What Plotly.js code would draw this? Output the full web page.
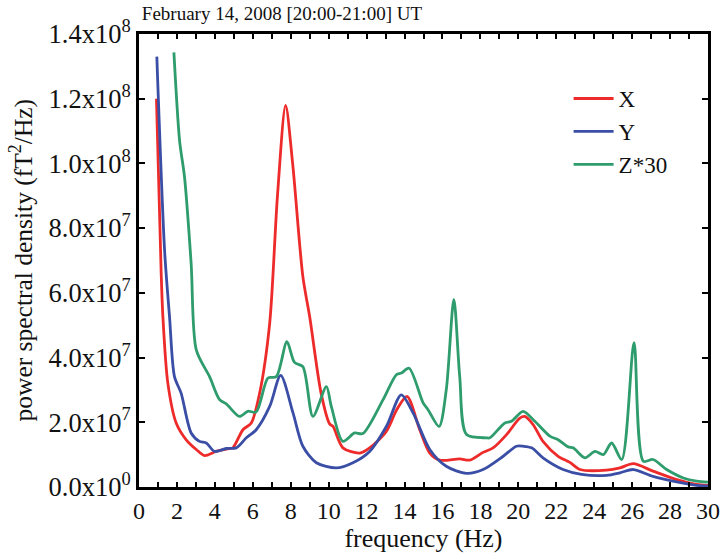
<!DOCTYPE html>
<html>
<head>
<meta charset="utf-8">
<script src="https://cdn.plot.ly/plotly-3.0.1.min.js"></script>
<style>html,body{margin:0;padding:0;background:#fff;}#chart{width:720px;height:559px;}</style>
</head>
<body>
<div id="chart"></div>
<script>
// X component
const fx = [0.92,1.17,1.26,1.52,1.96,2.49,3.02,3.46,4.07,4.78,4.95,5.48,5.92,6.36,6.89,7.3,7.73,8.1,8.64,9.0,9.6,10.05,10.23,10.75,11.64,12.16,13.04,13.6,14.13,14.8,15.33,15.86,16.91,17.44,18.14,18.67,19.38,20.08,20.34,20.78,21.3,22.1,22.72,23.25,24.65,25.36,26.06,27.1,28.35,29.4,30];
const vx = [1.2e8,6.6e7,5.26e7,3.21e7,1.98e7,1.46e7,1.16e7,9.7e6,1.1e7,1.19e7,1.21e7,1.77e7,1.98e7,2.9e7,5.06e7,9.0e7,1.179e8,1.0e8,6.5e7,5.26e7,2.9e7,1.95e7,1.87e7,1.21e7,1.05e7,1.21e7,1.72e7,2.4e7,2.8e7,1.77e7,1.05e7,8.3e6,8.7e6,8.3e6,1.07e7,1.21e7,1.62e7,2.13e7,2.18e7,1.93e7,1.41e7,9.5e6,7.6e6,5.4e6,5.2e6,5.9e6,7.2e6,4.9e6,2.3e6,8e5,5e5];
// Y component
const fy = [0.94,1.35,1.61,1.87,2.22,2.75,3.19,3.55,3.98,4.6,5.13,5.66,6.18,6.89,7.47,8.12,8.64,9.35,10.4,11.28,12.16,13.04,13.83,14.45,15.33,16.2,17.27,18.14,19.2,19.9,20.25,20.7,21.3,22.36,23.33,24.65,25.36,26.06,27.1,28.35,29.4,30];
const vy = [1.33e8,7.3e7,5.26e7,3.41e7,2.9e7,1.67e7,1.41e7,1.36e7,1.1e7,1.19e7,1.21e7,1.52e7,1.77e7,2.49e7,3.45e7,2.29e7,1.26e7,7.5e6,5.9e6,7.5e6,1.1e7,1.87e7,2.85e7,2.29e7,1.16e7,6.4e6,4.2e6,5.4e6,9.5e6,1.26e7,1.26e7,1.21e7,9.0e6,5.4e6,3.9e6,3.6e6,4.4e6,5.4e6,3.3e6,1.6e6,5e5,3e5];
// Z component (x30)
const fz = [1.84,2.14,2.4,2.75,3.02,3.72,4.25,4.6,5.3,5.74,6.18,6.8,7.24,7.8,8.2,8.64,9.17,9.88,10.14,10.75,11.37,11.8,12.87,13.57,13.83,14.24,14.98,15.24,15.82,16.2,16.6,16.91,17.27,18.32,18.5,19.29,19.64,20.25,20.87,21.66,22.1,22.63,22.89,23.51,24.04,24.48,24.92,25.45,26.1,26.59,27.1,27.82,28.7,29.4,30];
const vz = [1.343e8,1.07e8,9.58e7,6.9e7,4.24e7,3.41e7,2.7e7,2.57e7,2.18e7,2.34e7,2.32e7,3.37e7,3.41e7,4.49e7,3.85e7,3.72e7,2.18e7,3.1e7,2.49e7,1.41e7,1.67e7,1.65e7,2.7e7,3.47e7,3.52e7,3.67e7,2.6e7,2.39e7,1.87e7,3.0e7,5.8e7,3.41e7,1.62e7,1.52e7,1.52e7,1.98e7,2.03e7,2.34e7,2.03e7,1.57e7,1.46e7,1.24e7,1.21e7,9.0e6,1.1e7,1.0e7,1.36e7,8.5e6,4.46e7,7.96e6,8.5e6,5.4e6,2.8e6,1.8e6,1.5e6];

const xTickVals = [];
const xTickText = [];
for (let i = 0; i <= 30; i++) { xTickVals.push(i); xTickText.push(i % 2 === 0 ? String(i) : ''); }
const yTickVals = [0,2e7,4e7,6e7,8e7,1e8,1.2e8,1.4e8];
const yTickText = ['0.0x10<sup>0</sup>','2.0x10<sup>7</sup>','4.0x10<sup>7</sup>','6.0x10<sup>7</sup>','8.0x10<sup>7</sup>','1.0x10<sup>8</sup>','1.2x10<sup>8</sup>','1.4x10<sup>8</sup>'];

const font = 'Liberation Serif, Times New Roman, serif';
const traces = [
  {x: fx, y: vx, name: 'X', mode: 'lines', line: {color: '#ee2b2b', width: 2.8, shape: 'spline', smoothing: 0.8}},
  {x: fy, y: vy, name: 'Y', mode: 'lines', line: {color: '#3a4ea6', width: 2.8, shape: 'spline', smoothing: 0.8}},
  {x: fz, y: vz, name: 'Z*30', mode: 'lines', line: {color: '#2e9c6c', width: 2.8, shape: 'spline', smoothing: 0.8}}
];
const layout = {
  width: 720, height: 559,
  margin: {l: 139, r: 12, t: 34, b: 72},
  paper_bgcolor: '#fff', plot_bgcolor: '#fff',
  font: {family: font, color: '#111', size: 24},
  title: {text: 'February 14, 2008 [20:00-21:00] UT', font: {family: font, size: 19, color: '#111'}, xref: 'container', x: 0.197, xanchor: 'left', yref: 'container', y: 0.976, yanchor: 'middle'},
  xaxis: {range: [0, 30], tickvals: xTickVals, ticktext: xTickText, ticks: 'inside', ticklen: 5, tickwidth: 2, tickcolor: '#000',
    showline: true, linewidth: 3, linecolor: '#000', mirror: 'ticks', showgrid: false, zeroline: false,
    tickfont: {family: font, size: 24}, title: {text: 'frequency (Hz)', font: {family: font, size: 26}, standoff: 2}},
  yaxis: {range: [0, 1.4e8], tickvals: yTickVals, ticktext: yTickText, ticks: 'inside', ticklen: 6, tickwidth: 2, tickcolor: '#000',
    showline: true, linewidth: 3, linecolor: '#000', mirror: 'ticks', showgrid: false, zeroline: false,
    tickfont: {family: font, size: 26.5}},
  annotations: [{text: 'power spectral density (fT<sup>2</sup>/Hz)', xref: 'paper', yref: 'paper', x: 0, y: 0.5, xshift: -117, textangle: -90,
    showarrow: false, xanchor: 'center', yanchor: 'middle', font: {family: font, size: 25.5, color: '#111'}}],
  legend: {x: 0.755, y: 0.905, xanchor: 'left', yanchor: 'top', bgcolor: 'rgba(0,0,0,0)', font: {family: font, size: 23}, tracegroupgap: 0, itemwidth: 40},
  showlegend: true
};
Plotly.newPlot('chart', traces, layout, {displayModeBar: false, staticPlot: true});
</script>
</body>
</html>
